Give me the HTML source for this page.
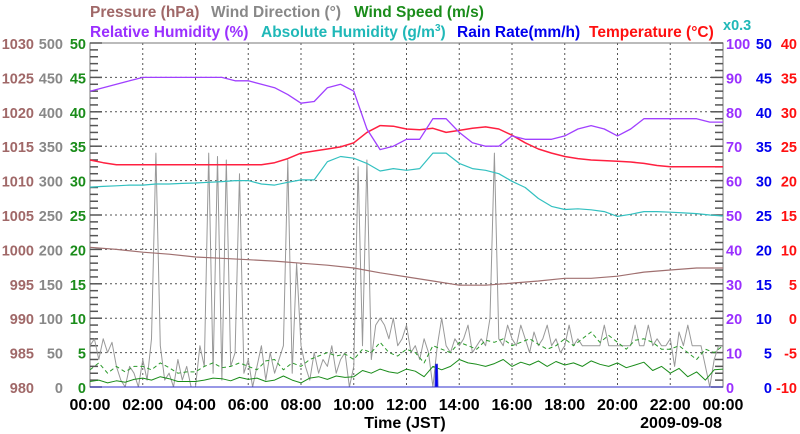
<!DOCTYPE html>
<html><head><meta charset="utf-8">
<style>
html,body{margin:0;padding:0;background:#fff;}
svg{display:block;font-family:"Liberation Sans",sans-serif;font-weight:bold;}
</style></head>
<body>
<svg id="chart" width="800" height="434" viewBox="0 0 800 434" xmlns="http://www.w3.org/2000/svg">
  <g font-size="15.5">
    <text x="90" y="17" fill="#a06868">Pressure (hPa)</text>
    <text x="211" y="17" fill="#888">Wind Direction (°)</text>
    <text x="354" y="17" fill="#1a8c1a">Wind Speed (m/s)</text>
    <text x="90" y="37" fill="#9a30ff">Relative Humidity (%)</text>
    <text x="261" y="37" fill="#20b8b8">Absolute Humidity (g/m<tspan font-size="10" dy="-6">3</tspan><tspan dy="6">)</tspan></text>
    <text x="457" y="37" fill="#0000ee">Rain Rate(mm/h)</text>
    <text x="589" y="37" fill="#ff1010">Temperature (°C)</text>
    <text x="723" y="30" fill="#20b8b8" font-size="14.5">x0.3</text>
  </g>
  <g id="grid"></g>
  <g id="axes"></g>
  <g id="series"></g>
  <text x="405" y="428" font-size="16" text-anchor="middle" fill="#000">Time (JST)</text>
  <text x="722" y="428" font-size="16" text-anchor="end" fill="#000">2009-09-08</text>
</svg>
<script>
// ---- data ----
const xTickLabels = ["00:00","02:00","04:00","06:00","08:00","10:00","12:00","14:00","16:00","18:00","20:00","22:00","00:00"];
const pressureTicks = [980,985,990,995,1000,1005,1010,1015,1020,1025,1030];
const windDirTicks = [0,50,100,150,200,250,300,350,400,450,500];
const windSpeedTicks = [0,5,10,15,20,25,30,35,40,45,50];
const rhTicks = [0,10,20,30,40,50,60,70,80,90,100];
const rainTicks = [0,5,10,15,20,25,30,35,40,45,50];
const tempTicks = [-10,-5,0,5,10,15,20,25,30,35,40];

// half-hourly (49 points, 00:00..24:00)
const relHumidity = [86,87,88,89,90,90,90,90,90,90,90,89,89,88,87,85,82.5,83,87,88,86,75,69,70,72,72,78,78,74,71,70,70,73,72,72,72,73,75,76,75,73,75,78,78,78,78,78,77,77];
const temperature = [23,22.6,22.3,22.3,22.3,22.3,22.3,22.3,22.3,22.3,22.3,22.3,22.3,22.3,22.6,23.2,24,24.3,24.6,24.9,25.5,27,28,27.9,27.5,27.4,27.6,27,27.3,27.6,27.8,27.5,26.6,25.5,24.6,24,23.5,23.2,23,22.9,22.8,22.7,22.5,22.2,22,22,22,22,22];
const absHumidity = [17.43,17.49,17.55,17.61,17.61,17.7,17.7,17.76,17.79,17.85,17.91,18,18,17.7,17.61,17.85,18.06,18.06,19.65,20.1,19.95,19.5,18.84,19.05,18.9,19.05,20.4,20.4,19.5,19.05,18.9,18.6,17.94,17.4,16.44,15.75,15.48,15.54,15.45,15.3,14.88,15.06,15.3,15.3,15.24,15.18,15.12,15,14.91];
// hourly (25 points)
const pressure = [1000.3,1000,999.6,999.3,998.9,998.7,998.5,998.3,998,997.7,997.3,996.6,996,995.4,994.8,994.8,995.1,995.4,995.8,995.8,996.1,996.7,997,997.3,997.3];
// 10-minute (145 points)
const windDirection = [60,70,40,70,50,65, 30,10,0,30,20,0, 40,10,70,340,60,10, 20,0,40,10,30,0, 0,60,30,340,20,335, 10,330,30,50,310,20, 40,0,30,60,10,50, 20,40,60,330,20,180, 60,30,10,50,20,40, 30,60,20,40,50,0, 30,320,60,330,40,90, 100,90,70,100,60,70, 90,50,60,40,70,50, 0,60,100,60,50,70, 60,70,90,50,60,70, 60,100,340,70,60,90, 70,60,90,70,50,80, 60,70,90,60,70,50, 60,90,60,70,60,60, 60,60,60,90,60,60, 60,60,60,60,90,60, 60,90,60,70,60,60, 70,30,80,60,90,60, 60,60,30,0,40,60, 60];
// 20-minute (73 points)
const windSpeed = [0.8,1.0,0.6,0.9,0.7,1.1, 1.3,1.0,1.5,1.2,0.8,0.8, 0.8,1.0,1.3,1.2,0.9,1.4, 1.1,1.3,0.8,1.0,1.6,1.0, 0.6,1.3,1.5,1.1,1.6,1.4, 1.5,2.4,2.0,2.6,2.2,2.0, 2.6,2.3,1.5,3.0,2.5,3.0, 4.0,3.5,3.3,3.0,3.4,4.0, 3.0,3.6,3.2,3.8,3.0,3.7, 3.2,3.5,3.0,3.8,3.3,3.0, 3.5,2.8,3.2,3.6,2.4,3.0, 2.0,2.7,1.5,2.2,1.0,2.5, 2.6];
const windGust = [2.5,3.5,2.0,3.0,2.2,3.0, 3.0,2.5,3.5,2.8,2.0,2.2, 2.2,3.0,3.5,2.8,3.0,3.5, 3.0,2.5,3.8,4.0,2.5,3.5, 3.0,4.0,4.5,5.0,4.5,4.8, 4.0,5.5,5.0,6.5,5.0,4.5, 5.5,5.0,3.5,6.0,5.5,5.0, 6.5,6.0,5.5,6.8,6.5,7.0, 6.0,6.5,7.0,6.2,5.5,6.0, 7.0,6.0,7.0,8.0,6.5,7.5, 6.5,5.5,6.8,7.0,6.5,5.5, 5.5,6.0,5.0,4.0,5.5,5.0, 6.0];
const rainTimes = [0, 13.08, 13.1, 13.17, 13.19, 24];
const rainRate = [0, 0, 3.3, 3.3, 0, 0];

// ---- geometry ----
const X0=90, X1=723, Y0=387, Y1=43;
const NS="http://www.w3.org/2000/svg";
const xScale = h => X0 + (h/24)*(X1-X0);
const yFrac = f => Y0 - f*(Y0-Y1);
const yPressure = v => yFrac((v-980)/50);
const yDir = v => yFrac(v/500);
const ySpeed = v => yFrac(v/50);
const yRH = v => yFrac(v/100);
const yAbs = v => yFrac((v/0.3)/100);
const yRain = v => yFrac(v/50);
const yTemp = v => yFrac((v+10)/50);

function mk(tag, attrs, parent){
  const e=document.createElementNS(NS,tag);
  for(const k in attrs) e.setAttribute(k,attrs[k]);
  parent.appendChild(e); return e;
}
const grid=document.getElementById('grid');
const axes=document.getElementById('axes');
const series=document.getElementById('series');

for(let i=1;i<12;i++){
  const l=mk('line',{x1:xScale(i*2),x2:xScale(i*2),y1:Y1,y2:Y0,stroke:'#555','stroke-width':1,'stroke-dasharray':'2,3'},grid);
  
  
}
for(let i=1;i<10;i++){
  const y=yFrac(i/10);
  const l=mk('line',{x1:X0,x2:X1,y1:y,y2:y,stroke:'#555','stroke-width':1,'stroke-dasharray':'2,3'},grid);
  
  
}
const frame=mk('rect',{x:X0,y:Y1,width:X1-X0,height:Y0-Y1,fill:'none',stroke:'#777','stroke-width':1},axes);


for(let i=0;i<=50;i++){
  const y=yFrac(i/50), major=i%5===0, len=major?12:8;
  const a=mk('line',{x1:X0,x2:X0+len,y1:y,y2:y,stroke:'#555','stroke-width':1.5},axes);
  
  
  const b=mk('line',{x1:X1-len,x2:X1,y1:y,y2:y,stroke:'#555','stroke-width':1.5},axes);
  
  
}
function label(x,y,txt,color,anchor,name,fs){
  const t=mk('text',{x:x,y:y,fill:color,'font-size':fs||14.5,'text-anchor':anchor},axes);
  t.textContent=txt;
  
  
}
for(let i=0;i<=10;i++){
  const y=yFrac(i/10)+6;
  label(34,y,pressureTicks[i],'#a06868','end','pressure-tick-label');
  label(63,y,windDirTicks[i],'#888','end','wind-direction-tick-label');
  label(86,y,windSpeedTicks[i],'#1a8c1a','end','wind-speed-tick-label');
  label(726,y,rhTicks[i],'#9a30ff','start','humidity-tick-label');
  label(772,y,rainTicks[i],'#0000ee','end','rain-tick-label');
  label(797,y,tempTicks[i],'#ff1010','end','temperature-tick-label');
}
xTickLabels.forEach((s,i)=>label(xScale(i*2),410,s,'#000','middle','x-tick-label',16));

function line(arr, yf, color, width, name, dash){
  const n=arr.length;
  const d=arr.map((v,i)=>(i?'L':'M')+xScale(i*24/(n-1)).toFixed(1)+','+yf(v).toFixed(1)).join('');
  const p=mk('path',{d:d,fill:'none',stroke:color,'stroke-width':width,'stroke-linejoin':'round'},series);
  if(dash) p.setAttribute('stroke-dasharray',dash);
  
  
}
line(windDirection,yDir,'#999',1,'wind-direction-line');
line(windGust,ySpeed,'#2a9a2a',1,'wind-gust-line','4,3');
line(windSpeed,ySpeed,'#1a8c1a',1,'wind-speed-line');
line(pressure,yPressure,'#a07070',1.2,'pressure-line');
line(absHumidity,yAbs,'#33c0c0',1.2,'absolute-humidity-line');
line(temperature,yTemp,'#ff2040',1.5,'temperature-line');
line(relHumidity,yRH,'#a040ff',1.3,'relative-humidity-line');
const rd='M'+rainTimes.map((t,i)=>xScale(t).toFixed(1)+','+yRain(rainRate[i]).toFixed(1)).join('L')+'Z';
const rain=mk('path',{d:rd,fill:'#0000ff',stroke:'#3030cc','stroke-width':1},series);


</script>
</body></html>
